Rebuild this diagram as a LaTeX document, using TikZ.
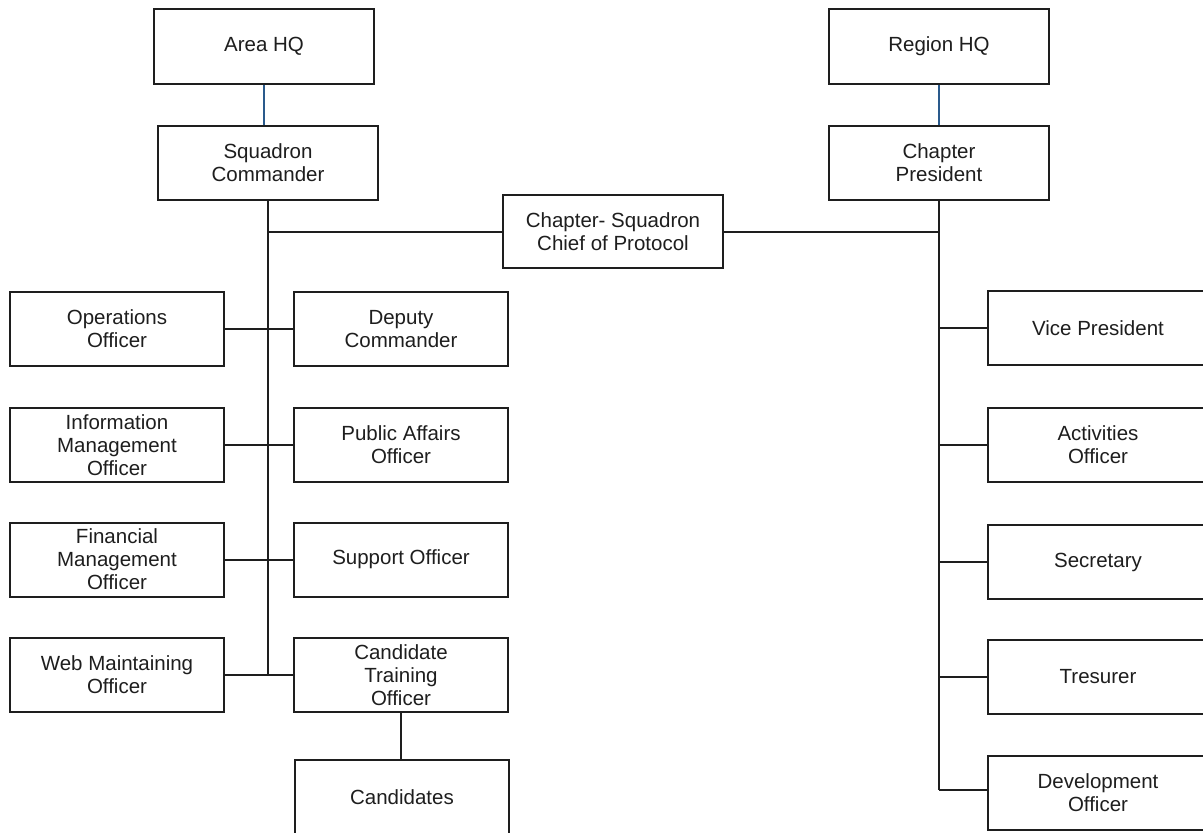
\documentclass[tikz,border=0pt]{standalone}
\usepackage{fontspec}
\setmainfont{Liberation Sans}
\definecolor{linkblue}{HTML}{2A5A8C}
\definecolor{ink}{HTML}{1E1E1E}
\begin{document}
\begin{tikzpicture}[x=1pt,y=-1pt,
  box/.style={draw=ink,line width=2pt,align=center,inner sep=0pt,
    font=\fontsize{20.5}{23}\selectfont,text=ink,minimum height=74pt},
  lbox/.style={box,minimum width=214pt},
  rbox/.style={box,minimum width=220pt},
  link/.style={draw=ink,line width=2pt},
  hq/.style={draw=linkblue,line width=1.6pt}]
\useasboundingbox[fill=white] (0,0) rectangle (1203,833);
% top
\node[rbox,minimum height=75pt] (ahq) at (264,46.5) {Area HQ};
\node[rbox] (sq) at (268,163) {Squadron\\Commander};
\node[rbox,minimum height=75pt] (rhq) at (939,46.5) {Region HQ};
\node[rbox] (cp) at (939,163) {Chapter\\President};
\node[rbox,minimum height=73pt] (chief) at (613,231.5) {Chapter- Squadron\\Chief of Protocol};
% left columns
\node[lbox] (op) at (117,329) {Operations\\Officer};
\node[lbox] (dc) at (401,329) {Deputy\\Commander};
\node[lbox] (im) at (117,445) {Information\\Management\\Officer};
\node[lbox] (pa) at (401,445) {Public Affairs\\Officer};
\node[lbox] (fm) at (117,559.5) {Financial\\Management\\Officer};
\node[lbox] (so) at (401,559.5) {Support Officer};
\node[lbox] (wm) at (117,675) {Web Maintaining\\Officer};
\node[lbox] (ct) at (401,675) {Candidate\\Training\\Officer};
\node[lbox] (cand) at (402,797) {Candidates};
% right column
\node[rbox] (vp) at (1098,328) {Vice President};
\node[rbox] (ao) at (1098,445) {Activities\\Officer};
\node[rbox] (sec) at (1098,562) {Secretary};
\node[rbox] (tr) at (1098,676.5) {Tresurer};
\node[rbox] (dev) at (1098,792.5) {Development\\Officer};
% connectors
\draw[hq] (ahq.south) -- (ahq.south |- sq.north);
\draw[hq] (rhq.south) -- (cp.north);
\draw[link] (sq.south) -- (sq.south |- wm.east);
\draw[link] (op.east) -- (dc.west);
\draw[link] (im.east) -- (pa.west);
\draw[link] (fm.east) -- (so.west);
\draw[link] (wm.east) -- (ct.west);
\draw[link] (ct.south) -- (ct.south |- cand.north);
\draw[link] (sq.south |- chief.west) -- (chief.west);
\draw[link] (chief.east) -- (cp.south |- chief.east);
\draw[link] (cp.south) -- (cp.south |- 0,790);
\draw[link] (cp.south |- vp.west) -- (vp.west);
\draw[link] (cp.south |- ao.west) -- (ao.west);
\draw[link] (cp.south |- sec.west) -- (sec.west);
\draw[link] (cp.south |- tr.west) -- (tr.west);
\draw[link] (cp.south |- 0,790) -- (dev.west |- 0,790);
\end{tikzpicture}
\end{document}
